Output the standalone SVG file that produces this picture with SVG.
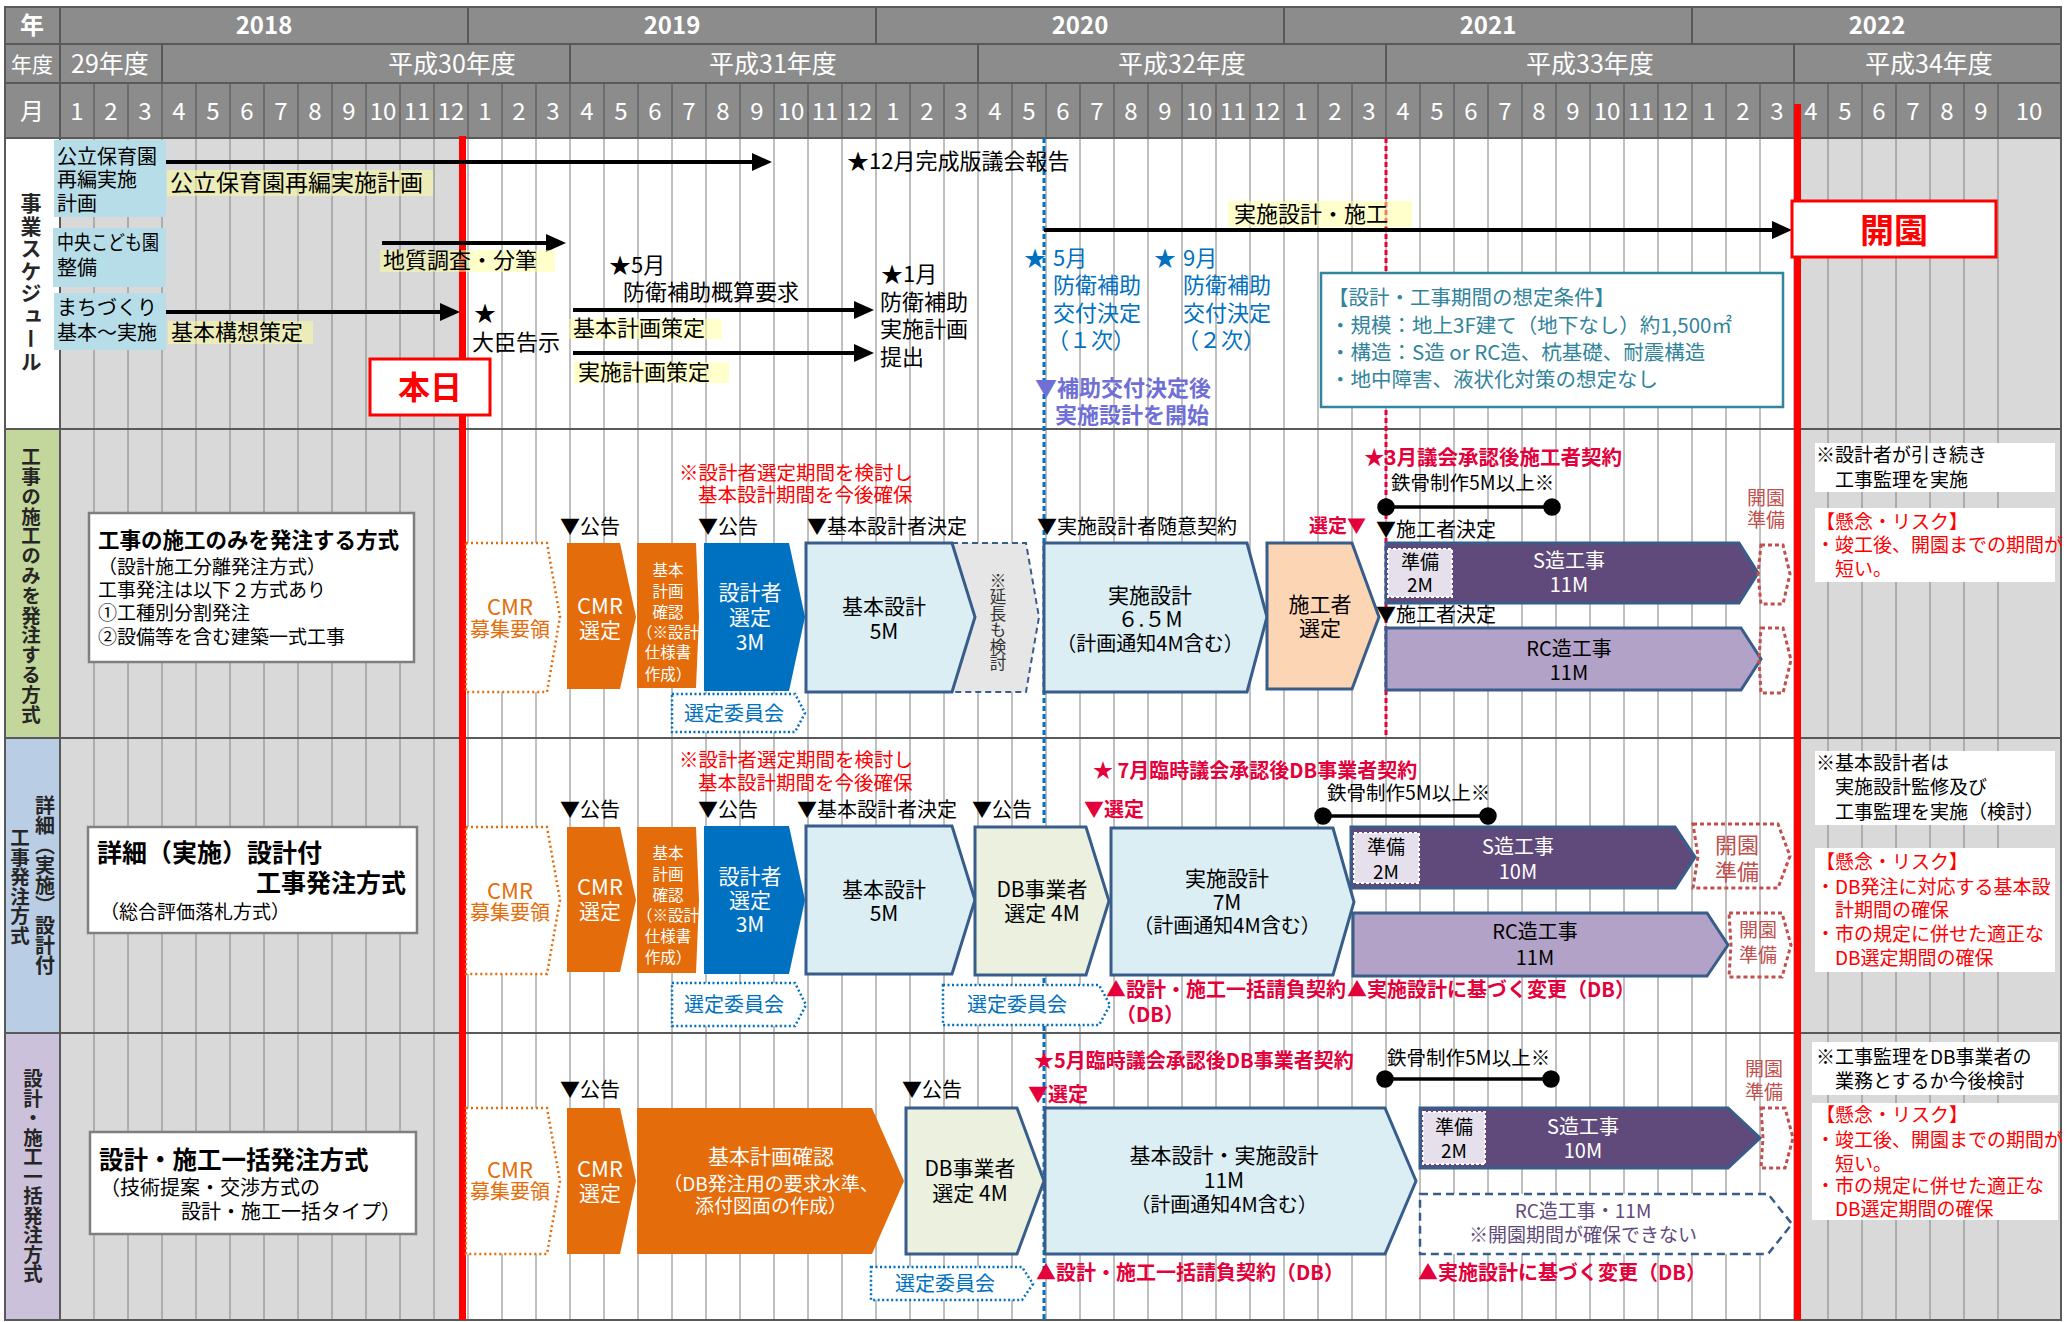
<svg xmlns="http://www.w3.org/2000/svg" width="2069" height="1322" viewBox="0 0 2069 1322">
<defs>
<style>
text{font-family:"Noto Sans CJK JP","Noto Sans",sans-serif;}
.hd{fill:#fff;font-size:23px;text-anchor:middle}
.fy{fill:#fff;font-size:25px;text-anchor:middle}
.hb{fill:#fff;font-size:24px;font-weight:bold;text-anchor:middle}
.t{fill:#000;font-size:20px}
.c{text-anchor:middle}
.e{text-anchor:end}
.w{fill:#fff}
.b{font-weight:bold}
.red{fill:#ff0000}
.crim{fill:#e4003b;font-weight:bold}
.blue{fill:#0070c0}
.teal{fill:#31849b}
.org{fill:#e46c0a}
.brn{fill:#c0504d}
.vl{writing-mode:vertical-rl;text-orientation:mixed;font-weight:bold;fill:#262626}
.chev{stroke:#385d8a;stroke-width:3}
.lb{fill:#dbeef4}
.grid{stroke:#808080;stroke-width:1}
.hl{fill:#ffff99;opacity:0.5}
.dotO{fill:#fff;stroke:#e46c0a;stroke-width:2.5;stroke-dasharray:2 3}
.dotB{fill:#fff;stroke:#0070c0;stroke-width:2.5;stroke-dasharray:2 2.5}
.dotR{fill:none;stroke:#c0504d;stroke-width:3;stroke-dasharray:4 3}
.ar{stroke:#000;stroke-width:4;fill:none}
.prep{fill:#e5e0ec;stroke:#fff;stroke-width:2;stroke-dasharray:3 2}
.note{fill:#fff}
</style>
<marker id="ah" viewBox="0 0 20 18" refX="10" refY="9" markerWidth="20" markerHeight="18" orient="auto" markerUnits="userSpaceOnUse"><path d="M0,0 L20,9 L0,18 Z" fill="#000"/></marker>
</defs>

<!-- header -->
<g id="header">
<rect x="5" y="7" width="2057" height="131" fill="#8c8c8c"/>
<g stroke="#595959" stroke-width="2">
<line x1="5" y1="44" x2="2062" y2="44"/><line x1="5" y1="83" x2="2062" y2="83"/>
<line x1="60" y1="7" x2="60" y2="138"/>
<line x1="468" y1="7" x2="468" y2="44"/><line x1="876" y1="7" x2="876" y2="44"/><line x1="1284" y1="7" x2="1284" y2="44"/><line x1="1692" y1="7" x2="1692" y2="44"/>
<line x1="162" y1="44" x2="162" y2="83"/><line x1="570" y1="44" x2="570" y2="83"/><line x1="978" y1="44" x2="978" y2="83"/><line x1="1386" y1="44" x2="1386" y2="83"/><line x1="1794" y1="44" x2="1794" y2="83"/>
</g>
<g stroke="#595959" stroke-width="1.2">
<line x1="94" y1="83" x2="94" y2="138"/><line x1="128" y1="83" x2="128" y2="138"/><line x1="162" y1="83" x2="162" y2="138"/><line x1="196" y1="83" x2="196" y2="138"/><line x1="230" y1="83" x2="230" y2="138"/><line x1="264" y1="83" x2="264" y2="138"/><line x1="298" y1="83" x2="298" y2="138"/><line x1="332" y1="83" x2="332" y2="138"/><line x1="366" y1="83" x2="366" y2="138"/><line x1="400" y1="83" x2="400" y2="138"/><line x1="434" y1="83" x2="434" y2="138"/><line x1="468" y1="83" x2="468" y2="138"/>
<line x1="502" y1="83" x2="502" y2="138"/><line x1="536" y1="83" x2="536" y2="138"/><line x1="570" y1="83" x2="570" y2="138"/><line x1="604" y1="83" x2="604" y2="138"/><line x1="638" y1="83" x2="638" y2="138"/><line x1="672" y1="83" x2="672" y2="138"/><line x1="706" y1="83" x2="706" y2="138"/><line x1="740" y1="83" x2="740" y2="138"/><line x1="774" y1="83" x2="774" y2="138"/><line x1="808" y1="83" x2="808" y2="138"/><line x1="842" y1="83" x2="842" y2="138"/><line x1="876" y1="83" x2="876" y2="138"/>
<line x1="910" y1="83" x2="910" y2="138"/><line x1="944" y1="83" x2="944" y2="138"/><line x1="978" y1="83" x2="978" y2="138"/><line x1="1012" y1="83" x2="1012" y2="138"/><line x1="1046" y1="83" x2="1046" y2="138"/><line x1="1080" y1="83" x2="1080" y2="138"/><line x1="1114" y1="83" x2="1114" y2="138"/><line x1="1148" y1="83" x2="1148" y2="138"/><line x1="1182" y1="83" x2="1182" y2="138"/><line x1="1216" y1="83" x2="1216" y2="138"/><line x1="1250" y1="83" x2="1250" y2="138"/><line x1="1284" y1="83" x2="1284" y2="138"/>
<line x1="1318" y1="83" x2="1318" y2="138"/><line x1="1352" y1="83" x2="1352" y2="138"/><line x1="1386" y1="83" x2="1386" y2="138"/><line x1="1420" y1="83" x2="1420" y2="138"/><line x1="1454" y1="83" x2="1454" y2="138"/><line x1="1488" y1="83" x2="1488" y2="138"/><line x1="1522" y1="83" x2="1522" y2="138"/><line x1="1556" y1="83" x2="1556" y2="138"/><line x1="1590" y1="83" x2="1590" y2="138"/><line x1="1624" y1="83" x2="1624" y2="138"/><line x1="1658" y1="83" x2="1658" y2="138"/><line x1="1692" y1="83" x2="1692" y2="138"/>
<line x1="1726" y1="83" x2="1726" y2="138"/><line x1="1760" y1="83" x2="1760" y2="138"/><line x1="1794" y1="83" x2="1794" y2="138"/><line x1="1828" y1="83" x2="1828" y2="138"/><line x1="1862" y1="83" x2="1862" y2="138"/><line x1="1896" y1="83" x2="1896" y2="138"/><line x1="1930" y1="83" x2="1930" y2="138"/><line x1="1964" y1="83" x2="1964" y2="138"/><line x1="1998" y1="83" x2="1998" y2="138"/><line x1="2061" y1="7" x2="2061" y2="138"/>
</g>
<text class="hb" x="32" y="34">年</text>
<text class="hb" x="264" y="34">2018</text><text class="hb" x="672" y="34">2019</text><text class="hb" x="1080" y="34">2020</text><text class="hb" x="1488" y="34">2021</text><text class="hb" x="1877" y="34">2022</text>
<text class="hd" x="32" y="72" style="font-size:21px">年度</text>
<text class="fy" x="110" y="73">29年度</text><text class="fy" x="452" y="73">平成30年度</text><text class="fy" x="773" y="73">平成31年度</text><text class="fy" x="1182" y="73">平成32年度</text><text class="fy" x="1590" y="73">平成33年度</text><text class="fy" x="1929" y="73">平成34年度</text>
<text class="hd" x="32" y="120" style="font-size:24px">月</text>
<g class="hd" style="font-size:24px">
<text x="77" y="120">1</text><text x="111" y="120">2</text><text x="145" y="120">3</text><text x="179" y="120">4</text><text x="213" y="120">5</text><text x="247" y="120">6</text><text x="281" y="120">7</text><text x="315" y="120">8</text><text x="349" y="120">9</text><text x="383" y="120">10</text><text x="417" y="120">11</text><text x="451" y="120">12</text>
<text x="485" y="120">1</text><text x="519" y="120">2</text><text x="553" y="120">3</text><text x="587" y="120">4</text><text x="621" y="120">5</text><text x="655" y="120">6</text><text x="689" y="120">7</text><text x="723" y="120">8</text><text x="757" y="120">9</text><text x="791" y="120">10</text><text x="825" y="120">11</text><text x="859" y="120">12</text>
<text x="893" y="120">1</text><text x="927" y="120">2</text><text x="961" y="120">3</text><text x="995" y="120">4</text><text x="1029" y="120">5</text><text x="1063" y="120">6</text><text x="1097" y="120">7</text><text x="1131" y="120">8</text><text x="1165" y="120">9</text><text x="1199" y="120">10</text><text x="1233" y="120">11</text><text x="1267" y="120">12</text>
<text x="1301" y="120">1</text><text x="1335" y="120">2</text><text x="1369" y="120">3</text><text x="1403" y="120">4</text><text x="1437" y="120">5</text><text x="1471" y="120">6</text><text x="1505" y="120">7</text><text x="1539" y="120">8</text><text x="1573" y="120">9</text><text x="1607" y="120">10</text><text x="1641" y="120">11</text><text x="1675" y="120">12</text>
<text x="1709" y="120">1</text><text x="1743" y="120">2</text><text x="1777" y="120">3</text><text x="1811" y="120">4</text><text x="1845" y="120">5</text><text x="1879" y="120">6</text><text x="1913" y="120">7</text><text x="1947" y="120">8</text><text x="1981" y="120">9</text><text x="2029" y="120">10</text>
</g>
<text class="hd" x="2063" y="107" style="text-anchor:start;font-size:20px">1</text>
<text class="hd" x="2063" y="133" style="text-anchor:start;font-size:20px">1</text>
</g>

<!-- body background and grid -->
<g id="grid">
<rect x="5" y="138" width="2056" height="1182" fill="#fff"/>
<rect x="60" y="138" width="403" height="1182" fill="#d9d9d9"/>
<rect x="1797" y="138" width="264" height="1182" fill="#d9d9d9"/>
<rect x="5" y="429" width="55" height="309" fill="#c3d69b"/>
<rect x="5" y="738" width="55" height="295" fill="#b9cde5"/>
<rect x="5" y="1033" width="55" height="287" fill="#ccc1da"/>
<g class="grid">
<line x1="94" y1="138" x2="94" y2="1320"/><line x1="128" y1="138" x2="128" y2="1320"/><line x1="162" y1="138" x2="162" y2="1320"/><line x1="196" y1="138" x2="196" y2="1320"/><line x1="230" y1="138" x2="230" y2="1320"/><line x1="264" y1="138" x2="264" y2="1320"/><line x1="298" y1="138" x2="298" y2="1320"/><line x1="332" y1="138" x2="332" y2="1320"/><line x1="366" y1="138" x2="366" y2="1320"/><line x1="400" y1="138" x2="400" y2="1320"/><line x1="434" y1="138" x2="434" y2="1320"/><line x1="468" y1="138" x2="468" y2="1320"/>
<line x1="502" y1="138" x2="502" y2="1320"/><line x1="536" y1="138" x2="536" y2="1320"/><line x1="570" y1="138" x2="570" y2="1320"/><line x1="604" y1="138" x2="604" y2="1320"/><line x1="638" y1="138" x2="638" y2="1320"/><line x1="672" y1="138" x2="672" y2="1320"/><line x1="706" y1="138" x2="706" y2="1320"/><line x1="740" y1="138" x2="740" y2="1320"/><line x1="774" y1="138" x2="774" y2="1320"/><line x1="808" y1="138" x2="808" y2="1320"/><line x1="842" y1="138" x2="842" y2="1320"/><line x1="876" y1="138" x2="876" y2="1320"/>
<line x1="910" y1="138" x2="910" y2="1320"/><line x1="944" y1="138" x2="944" y2="1320"/><line x1="978" y1="138" x2="978" y2="1320"/><line x1="1012" y1="138" x2="1012" y2="1320"/><line x1="1046" y1="138" x2="1046" y2="1320"/><line x1="1080" y1="138" x2="1080" y2="1320"/><line x1="1114" y1="138" x2="1114" y2="1320"/><line x1="1148" y1="138" x2="1148" y2="1320"/><line x1="1182" y1="138" x2="1182" y2="1320"/><line x1="1216" y1="138" x2="1216" y2="1320"/><line x1="1250" y1="138" x2="1250" y2="1320"/><line x1="1284" y1="138" x2="1284" y2="1320"/>
<line x1="1318" y1="138" x2="1318" y2="1320"/><line x1="1352" y1="138" x2="1352" y2="1320"/><line x1="1386" y1="138" x2="1386" y2="1320"/><line x1="1420" y1="138" x2="1420" y2="1320"/><line x1="1454" y1="138" x2="1454" y2="1320"/><line x1="1488" y1="138" x2="1488" y2="1320"/><line x1="1522" y1="138" x2="1522" y2="1320"/><line x1="1556" y1="138" x2="1556" y2="1320"/><line x1="1590" y1="138" x2="1590" y2="1320"/><line x1="1624" y1="138" x2="1624" y2="1320"/><line x1="1658" y1="138" x2="1658" y2="1320"/><line x1="1692" y1="138" x2="1692" y2="1320"/>
<line x1="1726" y1="138" x2="1726" y2="1320"/><line x1="1760" y1="138" x2="1760" y2="1320"/><line x1="1794" y1="138" x2="1794" y2="1320"/><line x1="1828" y1="138" x2="1828" y2="1320"/><line x1="1862" y1="138" x2="1862" y2="1320"/><line x1="1896" y1="138" x2="1896" y2="1320"/><line x1="1930" y1="138" x2="1930" y2="1320"/><line x1="1964" y1="138" x2="1964" y2="1320"/><line x1="1998" y1="138" x2="1998" y2="1320"/>
</g>
<g stroke="#595959" stroke-width="2" fill="none">
<line x1="60" y1="138" x2="60" y2="1320"/>
<line x1="5" y1="138" x2="2061" y2="138"/><line x1="5" y1="429" x2="2061" y2="429"/><line x1="5" y1="738" x2="2061" y2="738"/><line x1="5" y1="1033" x2="2061" y2="1033"/>
<rect x="5" y="7" width="2056" height="1313"/>
</g>
<rect x="459" y="136" width="7" height="1184" fill="#ff0000"/>
<rect x="1794" y="104" width="7" height="1216" fill="#ff0000"/>
<line x1="1044" y1="138" x2="1044" y2="1320" stroke="#0070c0" stroke-width="3" stroke-dasharray="5 3"/>
<line x1="1386" y1="138" x2="1386" y2="738" stroke="#e4003b" stroke-width="3" stroke-dasharray="5 3"/>
</g>

<!-- section labels -->
<g id="sec-labels">
<text class="vl" x="31" y="193" style="font-size:21px;letter-spacing:1.5px">事業スケジュール</text>
<text class="vl" x="31" y="447" style="font-size:19.5px;letter-spacing:0.3px">工事の施工のみを発注する方式</text>
<text class="vl" x="45" y="795" style="font-size:20px">詳細（実施）設計付</text>
<text class="vl" x="20" y="828" style="font-size:19.5px">工事発注方式</text>
<text class="vl" x="33" y="1069" style="font-size:19.5px">設計・施工一括発注方式</text>
</g>

<!-- connectors -->
<g id="connectors">
<line class="ar" x1="166" y1="162" x2="762" y2="162" marker-end="url(#ah)"/>
<line class="ar" x1="382" y1="243" x2="556" y2="243" marker-end="url(#ah)"/>
<line class="ar" x1="166" y1="312" x2="450" y2="312" marker-end="url(#ah)"/>
<line class="ar" x1="573" y1="310" x2="864" y2="310" marker-end="url(#ah)"/>
<line class="ar" x1="573" y1="353" x2="864" y2="353" marker-end="url(#ah)"/>
<line class="ar" x1="1044" y1="230" x2="1782" y2="230" marker-end="url(#ah)"/>
<g stroke="#000" stroke-width="3.5" fill="#000">
<line x1="1386" y1="507" x2="1552" y2="507"/><circle cx="1386" cy="507" r="7"/><circle cx="1552" cy="507" r="7"/>
<line x1="1323" y1="816" x2="1488" y2="816"/><circle cx="1323" cy="816" r="7"/><circle cx="1488" cy="816" r="7"/>
<line x1="1385" y1="1079" x2="1551" y2="1079"/><circle cx="1385" cy="1079" r="7"/><circle cx="1551" cy="1079" r="7"/>
</g>
</g>

<!-- section 1 -->
<g id="s1-koritsu"><rect x="54" y="140" width="112" height="77" fill="#b7dee8"/>
<text class="t" x="57" y="164">公立保育園</text><text class="t" x="57" y="187">再編実施</text><text class="t" x="57" y="211">計画</text></g>
<g id="s1-chuo"><rect x="53" y="228" width="113" height="59" fill="#b7dee8"/>
<text class="t" x="57" y="250" textLength="102" lengthAdjust="spacingAndGlyphs">中央こども園</text><text class="t" x="57" y="275">整備</text></g>
<g id="s1-machi"><rect x="54" y="293" width="112" height="57" fill="#b7dee8"/>
<text class="t" x="57" y="315">まちづくり</text><text class="t" x="57" y="340">基本～実施</text></g>
<g id="s1-lbl1"><rect class="hl" x="167" y="170" width="266" height="26"/><text class="t" x="170" y="191" style="font-size:23px">公立保育園再編実施計画</text></g>
<g id="s1-dec"><text class="t" x="847" y="169" style="font-size:22px">★12月完成版議会報告</text></g>
<g id="s1-chishitsu"><rect class="hl" x="380" y="250" width="175" height="22"/><text class="t" x="383" y="268" style="font-size:22px">地質調査・分筆</text></g>
<g id="s1-kihonkoso"><rect class="hl" x="168" y="321" width="145" height="23"/><text class="t" x="171" y="340" style="font-size:22px">基本構想策定</text></g>
<g id="s1-daijin"><text class="t" x="474" y="321" style="font-size:22px">★</text><text class="t" x="472" y="350" style="font-size:22px">大臣告示</text></g>
<g id="s1-honjitsu"><rect x="370" y="359" width="120" height="56" fill="#fff" stroke="#ff0000" stroke-width="3"/><text class="c b red" x="430" y="399" style="font-size:32px">本日</text></g>
<g id="s1-may"><text class="t" x="609" y="273" style="font-size:22px">★5月</text><text class="t" x="623" y="300" style="font-size:22px">防衛補助概算要求</text></g>
<g id="s1-kihonkeikaku"><rect class="hl" x="569" y="319" width="153" height="20"/><text class="t" x="573" y="336" style="font-size:22px">基本計画策定</text></g>
<g id="s1-jisshikeikaku"><rect class="hl" x="574" y="362" width="155" height="21"/><text class="t" x="578" y="380" style="font-size:22px">実施計画策定</text></g>
<g id="s1-jan"><text class="t" x="881" y="282" style="font-size:22px">★1月</text><text class="t" x="880" y="310" style="font-size:22px">防衛補助</text><text class="t" x="880" y="337" style="font-size:22px">実施計画</text><text class="t" x="880" y="365" style="font-size:22px">提出</text></g>
<g id="s1-sekou"><rect class="hl" x="1228" y="201" width="184" height="26"/><text class="t" x="1234" y="222" style="font-size:22px">実施設計・施工</text></g>
<g id="s1-kaien"><rect x="1792" y="201" width="204" height="56" fill="#fff" stroke="#ff0000" stroke-width="3"/><text class="c b red" x="1894" y="243" style="font-size:34px">開園</text></g>
<g id="s1-bou1" class="blue" style="font-size:22px"><text x="1024" y="266">★</text><text x="1053" y="266">5月</text><text x="1053" y="293">防衛補助</text><text x="1053" y="321">交付決定</text><text x="1047" y="348">（１次）</text></g>
<g id="s1-bou2" class="blue" style="font-size:22px"><text x="1154" y="266">★</text><text x="1183" y="266">9月</text><text x="1183" y="293">防衛補助</text><text x="1183" y="321">交付決定</text><text x="1177" y="348">（２次）</text></g>
<g id="s1-hojo" style="font-size:22px;font-weight:bold;fill:#6f6fd6"><text x="1035" y="396">▼補助交付決定後</text><text x="1055" y="423">実施設計を開始</text></g>
<g id="s1-cond"><rect x="1321" y="273" width="462" height="134" fill="#fff" stroke="#31859c" stroke-width="2.5"/>
<g class="teal" style="font-size:20.5px"><text x="1328" y="305">【設計・工事期間の想定条件】</text><text x="1330" y="333">・規模：地上3F建て（地下なし）約1,500㎡</text><text x="1330" y="360">・構造：S造 or RC造、杭基礎、耐震構造</text><text x="1330" y="387">・地中障害、液状化対策の想定なし</text></g></g>

<!-- section 2 -->
<g id="s2-desc"><rect x="89" y="513" width="325" height="149" fill="#fff" stroke="#7f7f7f" stroke-width="2.5"/>
<text class="t b" x="98" y="548" style="font-size:21.5px">工事の施工のみを発注する方式</text>
<g class="t" style="font-size:19px"><text x="98" y="574">（設計施工分離発注方式）</text><text x="98" y="597">工事発注は以下２方式あり</text><text x="98" y="620">①工種別分割発注</text><text x="98" y="644">②設備等を含む建築一式工事</text></g></g>
<g id="s2-cmrboshu"><path class="dotO" d="M466,543 L547,543 L560,617 L547,692 L466,692 Z"/><text class="c org" x="510" y="615" style="font-size:22px">CMR</text><text class="c org" x="510" y="637" style="font-size:20px">募集要領</text></g>
<g id="s2-cmr"><path d="M567,543 L620,543 L636,617 L620,689 L567,689 Z" fill="#e46c0a"/><text class="c w" x="600" y="614" style="font-size:22px">CMR</text><text class="c w" x="600" y="638" style="font-size:21px">選定</text></g>
<g id="s2-kihonkakunin"><path d="M637,543 L696,543 L699,617 L696,688 L637,688 Z" fill="#e46c0a"/><g class="c w" style="font-size:15.5px"><text x="668" y="576">基本</text><text x="668" y="597">計画</text><text x="668" y="618">確認</text><text x="668" y="638">（※設計</text><text x="668" y="658">仕様書</text><text x="668" y="680">作成）</text></g></g>
<g id="s2-sekkeisha"><path d="M704,543 L789,543 L805,617 L789,691 L704,691 Z" fill="#0070c0"/><g class="c w" style="font-size:21px"><text x="750" y="600">設計者</text><text x="750" y="625">選定</text><text x="750" y="650">3M</text></g></g>
<g id="s2-iinkai"><path class="dotB" d="M672,694 L795,694 L805,713 L795,732 L672,732 Z"/><text class="blue" x="684" y="721" style="font-size:20px">選定委員会</text></g>
<g id="s2-encho"><path d="M952,543 L1026,543 L1039,617 L1026,692 L952,692 L975,617 Z" fill="#e6e6e6" stroke="#385d8a" stroke-width="2" stroke-dasharray="6 4"/><text class="vl" x="998" y="572" style="font-size:16.5px;font-weight:normal;fill:#333">※延長も検討</text></g>
<g id="s2-kihonsekkei"><path class="chev lb" d="M806,543 L952,543 L975,617 L952,692 L806,692 Z"/><text class="c t" x="884" y="614" style="font-size:21px">基本設計</text><text class="c t" x="884" y="639" style="font-size:21px">5M</text></g>
<g id="s2-jisshi"><path class="chev lb" d="M1044,543 L1247,543 L1267,617 L1247,692 L1044,692 Z"/><text class="c t" x="1150" y="603" style="font-size:21px">実施設計</text><text class="c t" x="1150" y="627" style="font-size:21px">６.５M</text><text class="c t" x="1150" y="651" style="font-size:20px">（計画通知4M含む）</text></g>
<g id="s2-sekousha"><path class="chev" d="M1267,543 L1352,543 L1379,617 L1352,689 L1267,689 Z" fill="#fcd5b5"/><text class="c t" x="1320" y="612" style="font-size:21px">施工者</text><text class="c t" x="1320" y="636" style="font-size:21px">選定</text></g>
<g id="s2-marks" class="t"><text x="560" y="534">▼公告</text><text x="698" y="534">▼公告</text><text x="807" y="534">▼基本設計者決定</text><text x="1037" y="534">▼実施設計者随意契約</text><text x="1376" y="537">▼施工者決定</text><text x="1376" y="622">▼施工者決定</text></g>
<g id="s2-note" class="red" style="font-size:19.5px"><text x="679" y="480">※設計者選定期間を検討し</text><text x="698" y="502">基本設計期間を今後確保</text></g>
<g id="s2-crim" class="crim"><text x="1309" y="533" style="font-size:19px">選定▼</text><text x="1364" y="465" style="font-size:20.5px">★3月議会承認後施工者契約</text></g>
<g id="s2-tekkotsu"><text class="t" x="1391" y="490" style="font-size:19.5px">鉄骨制作5M以上※</text></g>
<g id="s2-szo"><path class="chev" d="M1386,543 L1739,543 L1758,573 L1739,603 L1386,603 Z" fill="#604a7b"/><text class="c w" x="1569" y="568" style="font-size:20px">S造工事</text><text class="c w" x="1569" y="592" style="font-size:20px">11M</text>
<rect class="prep" x="1388" y="549" width="64" height="48"/><text class="c t" x="1420" y="569" style="font-size:19px">準備</text><text class="c t" x="1420" y="592" style="font-size:19px">2M</text></g>
<g id="s2-rczo"><path class="chev" d="M1386,628 L1741,628 L1761,659 L1741,690 L1386,690 Z" fill="#b3a2c7"/><text class="c t" x="1569" y="656" style="font-size:20px">RC造工事</text><text class="c t" x="1569" y="680" style="font-size:20px">11M</text></g>
<g id="s2-kaienjunbi"><text class="c brn" x="1766" y="505" style="font-size:19px">開園</text><text class="c brn" x="1766" y="527" style="font-size:19px">準備</text>
<path class="dotR" d="M1761,545 L1783,545 L1790,574 L1783,604 L1761,604 L1758,574 Z"/><path class="dotR" d="M1761,628 L1783,628 L1791,660 L1783,693 L1761,693 L1759,660 Z"/></g>
<g id="s2-notes"><rect class="note" x="1815" y="443" width="240" height="49"/><text class="t" x="1816" y="462" style="font-size:19px">※設計者が引き続き</text><text class="t" x="1816" y="487" style="font-size:19px">　工事監理を実施</text>
<rect class="note" x="1815" y="508" width="240" height="74"/><g class="red" style="font-size:19px"><text x="1816" y="529">【懸念・リスク】</text><text x="1816" y="552">・竣工後、開園までの期間が</text><text x="1816" y="576">　短い。</text></g></g>

<!-- section 3 -->
<g id="s3-desc"><rect x="88" y="827" width="329" height="106" fill="#fff" stroke="#7f7f7f" stroke-width="2.5"/>
<text class="t b" x="97" y="862" style="font-size:25px">詳細（実施）設計付</text><text class="t b e" x="406" y="892" style="font-size:25px">工事発注方式</text><text class="t" x="100" y="919" style="font-size:19px">（総合評価落札方式）</text></g>
<g id="s3-cmrboshu"><path class="dotO" d="M466,827 L547,827 L560,900 L547,974 L466,974 Z"/><text class="c org" x="510" y="899" style="font-size:22px">CMR</text><text class="c org" x="510" y="920" style="font-size:20px">募集要領</text></g>
<g id="s3-cmr"><path d="M567,827 L620,827 L636,900 L620,972 L567,972 Z" fill="#e46c0a"/><text class="c w" x="600" y="895" style="font-size:22px">CMR</text><text class="c w" x="600" y="919" style="font-size:21px">選定</text></g>
<g id="s3-kihonkakunin"><path d="M637,827 L696,827 L699,900 L696,973 L637,973 Z" fill="#e46c0a"/><g class="c w" style="font-size:15.5px"><text x="668" y="859">基本</text><text x="668" y="880">計画</text><text x="668" y="901">確認</text><text x="668" y="921">（※設計</text><text x="668" y="942">仕様書</text><text x="668" y="963">作成）</text></g></g>
<g id="s3-sekkeisha"><path d="M704,826 L789,826 L805,900 L789,974 L704,974 Z" fill="#0070c0"/><g class="c w" style="font-size:21px"><text x="750" y="884">設計者</text><text x="750" y="908">選定</text><text x="750" y="932">3M</text></g></g>
<g id="s3-iinkai1"><path class="dotB" d="M672,983 L795,983 L806,1005 L795,1026 L672,1026 Z"/><text class="blue" x="684" y="1012" style="font-size:20px">選定委員会</text></g>
<g id="s3-kihonsekkei"><path class="chev lb" d="M806,826 L952,826 L975,900 L952,974 L806,974 Z"/><text class="c t" x="884" y="897" style="font-size:21px">基本設計</text><text class="c t" x="884" y="921" style="font-size:21px">5M</text></g>
<g id="s3-db"><path class="chev" d="M975,827 L1086,827 L1109,901 L1086,975 L975,975 Z" fill="#ebf1de"/><text class="c t" x="1042" y="897" style="font-size:21px">DB事業者</text><text class="c t" x="1042" y="921" style="font-size:21px">選定 4M</text></g>
<g id="s3-iinkai2"><path class="dotB" d="M943,985 L1099,985 L1110,1005 L1099,1025 L943,1025 Z"/><text class="c blue" x="1017" y="1012" style="font-size:20px">選定委員会</text></g>
<g id="s3-jisshi"><path class="chev lb" d="M1111,828 L1333,828 L1354,902 L1333,975 L1111,975 Z"/><text class="c t" x="1227" y="886" style="font-size:21px">実施設計</text><text class="c t" x="1227" y="910" style="font-size:21px">7M</text><text class="c t" x="1227" y="933" style="font-size:20px">（計画通知4M含む）</text></g>
<g id="s3-marks" class="t"><text x="560" y="817">▼公告</text><text x="698" y="817">▼公告</text><text x="797" y="817">▼基本設計者決定</text><text x="972" y="817">▼公告</text></g>
<g id="s3-note" class="red" style="font-size:19.5px"><text x="679" y="767">※設計者選定期間を検討し</text><text x="698" y="790">基本設計期間を今後確保</text></g>
<g id="s3-crim" class="crim" style="font-size:20px"><text x="1084" y="817">▼選定</text><text x="1093" y="778">★ 7月臨時議会承認後DB事業者契約</text><text x="1106" y="997">▲設計・施工一括請負契約</text><text x="1116" y="1022">（DB）</text><text x="1347" y="997">▲実施設計に基づく変更（DB）</text></g>
<g id="s3-tekkotsu"><text class="t" x="1327" y="800" style="font-size:19.5px">鉄骨制作5M以上※</text></g>
<g id="s3-szo"><path class="chev" d="M1351,827 L1675,827 L1695,857 L1675,888 L1351,888 Z" fill="#604a7b"/><text class="c w" x="1518" y="854" style="font-size:20px">S造工事</text><text class="c w" x="1518" y="879" style="font-size:20px">10M</text>
<rect class="prep" x="1354" y="833" width="65" height="50"/><text class="c t" x="1386" y="854" style="font-size:19px">準備</text><text class="c t" x="1386" y="879" style="font-size:19px">2M</text></g>
<g id="s3-kaien1"><path class="dotR" d="M1693,824 L1778,824 L1790,856 L1778,888 L1693,888 L1698,856 Z"/><text class="c brn" x="1737" y="853" style="font-size:22px">開園</text><text class="c brn" x="1737" y="880" style="font-size:22px">準備</text></g>
<g id="s3-rczo"><path class="chev" d="M1353,913 L1707,913 L1728,945 L1707,976 L1353,976 Z" fill="#b3a2c7"/><text class="c t" x="1535" y="939" style="font-size:20px">RC造工事</text><text class="c t" x="1535" y="965" style="font-size:20px">11M</text></g>
<g id="s3-kaien2"><path class="dotR" d="M1729,913 L1782,913 L1791,945 L1782,977 L1729,977 L1731,945 Z"/><text class="c brn" x="1758" y="937" style="font-size:19px">開園</text><text class="c brn" x="1758" y="962" style="font-size:19px">準備</text></g>
<g id="s3-notes"><rect class="note" x="1815" y="751" width="240" height="74"/><g class="t" style="font-size:19px"><text x="1816" y="770">※基本設計者は</text><text x="1816" y="794">　実施設計監修及び</text><text x="1816" y="819">　工事監理を実施（検討）</text></g>
<rect class="note" x="1815" y="848" width="240" height="124"/><g class="red" style="font-size:19px"><text x="1816" y="869">【懸念・リスク】</text><text x="1816" y="894">・DB発注に対応する基本設</text><text x="1816" y="917">　計期間の確保</text><text x="1816" y="941">・市の規定に併せた適正な</text><text x="1816" y="965">　DB選定期間の確保</text></g></g>

<!-- section 4 -->
<g id="s4-desc"><rect x="90" y="1132" width="326" height="102" fill="#fff" stroke="#7f7f7f" stroke-width="2.5"/>
<text class="t b" x="99" y="1169" style="font-size:24.5px">設計・施工一括発注方式</text><text class="t" x="100" y="1195" style="font-size:20px">（技術提案・交渉方式の</text><text class="t e" x="401" y="1219" style="font-size:20px">設計・施工一括タイプ）</text></g>
<g id="s4-cmrboshu"><path class="dotO" d="M466,1108 L547,1108 L560,1181 L547,1254 L466,1254 Z"/><text class="c org" x="510" y="1178" style="font-size:22px">CMR</text><text class="c org" x="510" y="1199" style="font-size:20px">募集要領</text></g>
<g id="s4-cmr"><path d="M567,1108 L620,1108 L636,1181 L620,1254 L567,1254 Z" fill="#e46c0a"/><text class="c w" x="600" y="1177" style="font-size:22px">CMR</text><text class="c w" x="600" y="1201" style="font-size:21px">選定</text></g>
<g id="s4-kihonkakunin"><path d="M637,1108 L872,1108 L904,1181 L872,1254 L637,1254 Z" fill="#e46c0a"/><text class="c w" x="771" y="1164" style="font-size:21px">基本計画確認</text><text class="c w" x="771" y="1191" style="font-size:19px">（DB発注用の要求水準、</text><text class="c w" x="771" y="1213" style="font-size:19px">添付図面の作成）</text></g>
<g id="s4-db"><path class="chev" d="M906,1108 L1017,1108 L1044,1181 L1017,1254 L906,1254 Z" fill="#ebf1de"/><text class="c t" x="970" y="1176" style="font-size:21px">DB事業者</text><text class="c t" x="970" y="1201" style="font-size:21px">選定 4M</text></g>
<g id="s4-iinkai"><path class="dotB" d="M871,1267 L1022,1267 L1033,1284 L1022,1300 L871,1300 Z"/><text class="c blue" x="945" y="1291" style="font-size:20px">選定委員会</text></g>
<g id="s4-kihonjisshi"><path class="chev lb" d="M1045,1108 L1385,1108 L1416,1181 L1385,1254 L1045,1254 Z"/><text class="c t" x="1224" y="1163" style="font-size:21px">基本設計・実施設計</text><text class="c t" x="1224" y="1188" style="font-size:21px">11M</text><text class="c t" x="1224" y="1212" style="font-size:20px">（計画通知4M含む）</text></g>
<g id="s4-marks" class="t"><text x="560" y="1097">▼公告</text><text x="902" y="1097">▼公告</text></g>
<g id="s4-crim" class="crim" style="font-size:20px"><text x="1034" y="1068">★5月臨時議会承認後DB事業者契約</text><text x="1028" y="1102">▼選定</text><text x="1036" y="1280">▲設計・施工一括請負契約（DB）</text><text x="1418" y="1280">▲実施設計に基づく変更（DB）</text></g>
<g id="s4-tekkotsu"><text class="t" x="1387" y="1065" style="font-size:19.5px">鉄骨制作5M以上※</text></g>
<g id="s4-szo"><path class="chev" d="M1420,1108 L1728,1108 L1760,1138 L1728,1168 L1420,1168 Z" fill="#604a7b"/><text class="c w" x="1583" y="1134" style="font-size:20px">S造工事</text><text class="c w" x="1583" y="1158" style="font-size:20px">10M</text>
<rect class="prep" x="1423" y="1112" width="62" height="52"/><text class="c t" x="1454" y="1134" style="font-size:19px">準備</text><text class="c t" x="1454" y="1158" style="font-size:19px">2M</text></g>
<g id="s4-kaien"><text class="c brn" x="1764" y="1076" style="font-size:19px">開園</text><text class="c brn" x="1764" y="1099" style="font-size:19px">準備</text><path class="dotR" d="M1761,1108 L1785,1108 L1793,1138 L1785,1168 L1761,1168 L1763,1138 Z"/></g>
<g id="s4-rczo"><path d="M1420,1194 L1768,1194 L1792,1224 L1768,1254 L1420,1254 Z" fill="#fff" stroke="#385d8a" stroke-width="2.5" stroke-dasharray="8 5"/><text class="c" x="1583" y="1218" style="font-size:19px;fill:#604a7b">RC造工事・11M</text><text class="c" x="1583" y="1242" style="font-size:19px;fill:#604a7b">※開園期間が確保できない</text></g>
<g id="s4-notes"><rect class="note" x="1812" y="1042" width="246" height="53"/><g class="t" style="font-size:19px"><text x="1816" y="1064">※工事監理をDB事業者の</text><text x="1816" y="1088">　業務とするか今後検討</text></g>
<rect class="note" x="1812" y="1103" width="246" height="117"/><g class="red" style="font-size:19px"><text x="1816" y="1122">【懸念・リスク】</text><text x="1816" y="1147">・竣工後、開園までの期間が</text><text x="1816" y="1171">　短い。</text><text x="1816" y="1193">・市の規定に併せた適正な</text><text x="1816" y="1216">　DB選定期間の確保</text></g></g>
</svg>
